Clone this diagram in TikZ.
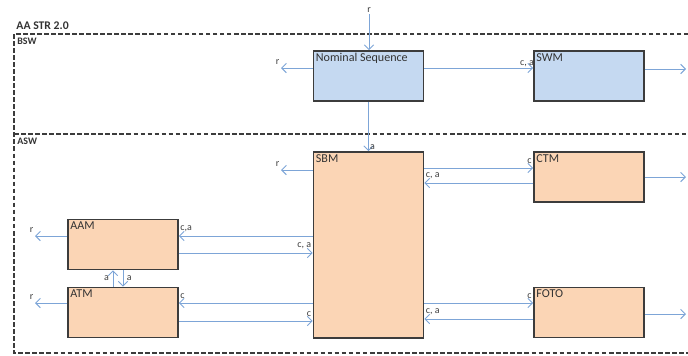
\documentclass[tikz,border=0pt]{standalone}
\usepackage{fontspec}
\setmainfont{Carlito}
\usetikzlibrary{arrows.meta}

\definecolor{bswblue}{RGB}{197,217,241}
\definecolor{aswpeach}{RGB}{251,213,181}
\definecolor{flowblue}{RGB}{125,165,215}
\definecolor{edgegray}{RGB}{60,60,60}

\tikzset{
  module/.style={draw=edgegray, line width=1.3pt, minimum width=3.3cm, minimum height=1.5cm, inner sep=0pt},
  boxname/.style={anchor=north west, inner sep=2.5pt, font=\fontsize{10.3}{11}\selectfont, text=black!80},
  flow/.style={->, draw=flowblue, line width=0.8pt},
  lbl/.style={font=\fontsize{8.5}{9}\selectfont, text=black!75, inner sep=1pt},
  tip/.style={yshift=2pt},
  frame/.style={draw=edgegray, line width=1.1pt, dash pattern=on 4pt off 2pt},
  area/.style={font=\bfseries\fontsize{8.5}{9}\selectfont, text=black!80, anchor=north west, inner sep=1pt}
}

\begin{document}
\begin{tikzpicture}[x=0.03cm, y=-0.03cm, >={Straight Barb[length=4pt,width=8pt]}]
  \useasboundingbox (0,0) rectangle (688,355);
  \clip (0,0) rectangle (688,355);

  % Frames
  \node[area, font=\bfseries\fontsize{10}{11}\selectfont] (title) at (15,20.5) {AA STR 2.0};
  \draw[frame] (14,34) rectangle (700,353);
  \draw[frame] (14,134) -- (700,134);
  \node[area] (bsw) at (16,37) {BSW};
  \node[area] (asw) at (16,137) {ASW};

  % Modules
  \node[module, fill=bswblue, label={[boxname]north west:Nominal Sequence}] (nom) at (368.5,76) {};
  \node[module, fill=bswblue, label={[boxname]north west:SWM}] (swm) at (589,76) {};
  \node[module, fill=aswpeach, minimum height=5.58cm, label={[boxname]north west:SBM}] (sbm) at (368.5,245) {};
  \node[module, fill=aswpeach, label={[boxname]north west:CTM}] (ctm) at (589,177) {};
  \node[module, fill=aswpeach, label={[boxname]north west:FOTO}] (foto) at (589,312.5) {};
  \node[module, fill=aswpeach, label={[boxname]north west:AAM}] (aam) at (123,244.5) {};
  \node[module, fill=aswpeach, label={[boxname]north west:ATM}] (atm) at (123,312.5) {};

  % Free ends
  \coordinate (rtop) at (369,14);
  \coordinate (nomr) at (281,68);
  \coordinate (sbmr) at (281,170);
  \coordinate (aamr) at (35,236);
  \coordinate (atmr) at (35,303);
  \coordinate (swmo) at (686,69);
  \coordinate (ctmo) at (686,177);
  \coordinate (fotoo) at (686,314);

  % BSW flows
  \draw[flow] (rtop) node[lbl, above] {r} -- (rtop |- nom.north);
  \draw[flow] (nom.west |- nomr) -- (nomr) node[lbl, tip, above left] {r};
  \draw[flow] (nom.east |- 0,68) -- (swm.west |- 0,68) node[lbl, above left, xshift=2pt] {c, a};
  \draw[flow] (swm.east |- swmo) -- (swmo);
  \draw[flow] (nom.south) -- (sbm.north) node[lbl, above right] {a};

  % SBM flows
  \draw[flow] (sbm.west |- sbmr) -- (sbmr) node[lbl, tip, above left] {r};
  \draw[flow] (sbm.east |- 0,168) -- (ctm.west |- 0,168) node[lbl, tip, above left] {c};
  \draw[flow] (ctm.west |- 0,183) -- (sbm.east |- 0,183) node[lbl, tip, above right] {c, a};
  \draw[flow] (ctm.east |- ctmo) -- (ctmo);
  \draw[flow] (sbm.east |- 0,303) -- (foto.west |- 0,303) node[lbl, tip, above left] {c};
  \draw[flow] (foto.west |- 0,319) -- (sbm.east |- 0,319) node[lbl, tip, above right] {c, a};
  \draw[flow] (foto.east |- fotoo) -- (fotoo);

  % AAM / ATM flows
  \draw[flow] (sbm.west |- 0,236) -- (aam.east |- 0,236) node[lbl, tip, above right] {c,a};
  \draw[flow] (aam.east |- 0,253) -- (sbm.west |- 0,253) node[lbl, tip, above left] {c, a};
  \draw[flow] (sbm.west |- 0,303) -- (atm.east |- 0,303) node[lbl, tip, above right] {c};
  \draw[flow] (atm.east |- 0,321) -- (sbm.west |- 0,321) node[lbl, tip, above left] {c};
  \draw[flow] (aam.west |- aamr) -- (aamr) node[lbl, tip, above left] {r};
  \draw[flow] (atm.west |- atmr) -- (atmr) node[lbl, tip, above left] {r};
  \draw[flow] (atm.north -| 113,0) -- (aam.south -| 113,0) node[lbl, pos=0.5, left=2pt] {a};
  \draw[flow] (aam.south -| 123,0) -- (atm.north -| 123,0) node[lbl, pos=0.5, right=2pt] {a};
\end{tikzpicture}
\end{document}
